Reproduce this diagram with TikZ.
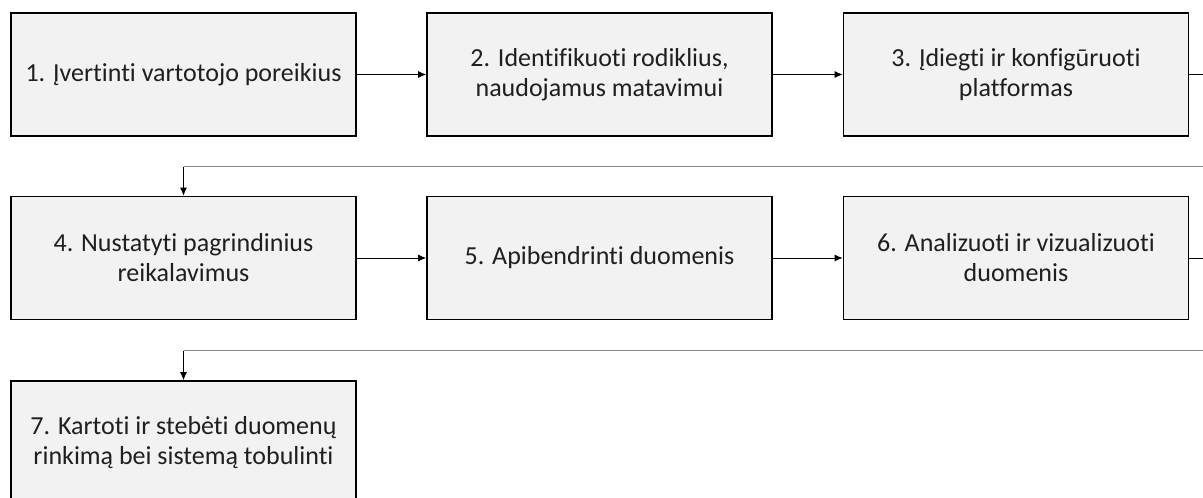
\documentclass[tikz,border=0pt]{standalone}
\usepackage{fontspec}
\setmainfont[Ligatures=NoCommon]{Carlito}
\usetikzlibrary{arrows.meta}
\definecolor{boxfill}{HTML}{F2F2F2}
\definecolor{wrapline}{HTML}{8C8C8C}
\begin{document}
\begin{tikzpicture}[x=1pt,y=-1pt,
  stepbox/.style={draw=black,line width=1.6pt,fill=boxfill,rectangle,
    minimum width=345pt,minimum height=123pt,align=center,inner sep=0pt,
    font=\fontsize{26}{30}\selectfont,text=black!88},
  flow/.style={draw=black,line width=0.9pt,-{Latex[length=8pt,width=7pt]}},
  wrap/.style={draw=wrapline,line width=1.6pt}]
\clip (0,0) rectangle (1203,498);
\fill[white] (0,0) rectangle (1203,498);
% row 1
\node[stepbox] (s1) at (183.5,74.5) {1. Įvertinti vartotojo poreikius};
\node[stepbox] (s2) at (599.5,74.5) {2. Identifikuoti rodiklius,\\naudojamus matavimui};
\node[stepbox] (s3) at (1016,74.5) {3. Įdiegti ir konfigūruoti\\platformas};
% row 2
\node[stepbox] (s4) at (183.5,258) {4. Nustatyti pagrindinius\\reikalavimus};
\node[stepbox] (s5) at (599.5,258) {5. Apibendrinti duomenis};
\node[stepbox] (s6) at (1016,258) {6. Analizuoti ir vizualizuoti\\duomenis};
% row 3
\node[stepbox] (s7) at (183.5,442.5) {7. Kartoti ir stebėti duomenų\\rinkimą bei sistemą tobulinti};
% turn points beyond the right edge
\coordinate (r1) at (1220,74.5);
\coordinate (r1d) at (1220,166.5);
\coordinate (r2) at (1220,258);
\coordinate (r2d) at (1220,350.5);
\coordinate (k4) at (183.5,166.5);
\coordinate (k7) at (183.5,350.5);
% straight links
\draw[flow] (s1) -- (s2);
\draw[flow] (s2) -- (s3);
\draw[flow] (s4) -- (s5);
\draw[flow] (s5) -- (s6);
% wrap-around links
\draw[draw=black,line width=0.9pt] (s3.east) -- (r1);
\draw[wrap] (r1d) -- (k4);
\draw[flow] (k4) -- (s4.north);
\draw[draw=black,line width=0.9pt] (s6.east) -- (r2);
\draw[wrap] (r2d) -- (k7);
\draw[flow] (k7) -- (s7.north);
\end{tikzpicture}
\end{document}
